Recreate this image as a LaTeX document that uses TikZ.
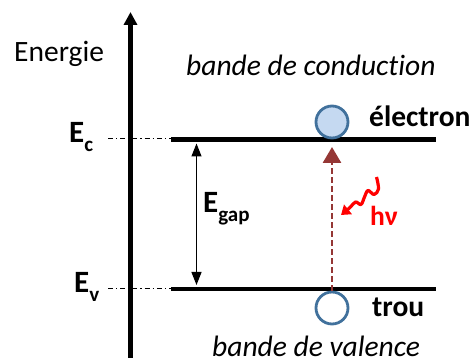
\documentclass[tikz,border=0pt]{standalone}
\usepackage{fontspec}
\setmainfont[Ligatures=NoCommon]{Carlito}
\usetikzlibrary{arrows.meta}
\definecolor{arrowbrown}{HTML}{953735}
\definecolor{circedge}{HTML}{41719C}
\definecolor{circfill}{HTML}{C5D9F1}
\tikzset{
  txt/.style={inner sep=0pt, anchor=base west, font=\fontsize{29.5}{34}\selectfont},
  itxt/.style={txt, font=\fontsize{29.5}{34}\selectfont\itshape},
  btxt/.style={txt, font=\fontsize{29.5}{34}\selectfont\bfseries},
  level/.style={line width=4.8pt},
  guide/.style={line width=0.9pt, dash pattern=on 5pt off 3pt on 1.2pt off 3pt},
  particle/.style={circle, draw=circedge, line width=2.8pt, minimum size=32pt, inner sep=0pt},
}
\newcommand{\lvl}[2]{\textbf{E}\raisebox{-9pt}{\fontsize{21}{24}\selectfont\bfseries #2}}
\begin{document}
\begin{tikzpicture}[x=1pt,y=-1pt]
\useasboundingbox (0,0) rectangle (475,363);
% axis
\coordinate (axb) at (130.5,358);
\coordinate (axt) at (130.5,12);
\draw[line width=4.8pt, -{Triangle[length=13pt,width=13pt]}] (axb) -- (axt);
% levels
\coordinate (ecL) at (171,139.5);
\coordinate (ecR) at (436,139.5);
\coordinate (evL) at (171,289);
\coordinate (evR) at (436,289);
\coordinate (ecG) at (108,138);
\coordinate (evG) at (108,288);
\draw[level] (ecL) -- (ecR);
\draw[level] (evL) -- (evR);
\draw[guide] (ecG) -- (ecL|-ecG);
\draw[guide] (evG) -- (evL|-evG);
% labels
\node[txt] (en) at (14,62) {Energie};
\node[itxt] (bc) at (186,76) {bande de conduction};
\node[itxt] (bv) at (212,357) {bande de valence};
\node[txt, font=\fontsize{31}{34}\selectfont\bfseries] (ec) at (69,143) {\lvl{E}{c}};
\node[txt, font=\fontsize{31}{34}\selectfont\bfseries] (ev) at (74,293) {\lvl{E}{v}};
% gap arrow
\coordinate (gt) at (196.5,143.5);
\coordinate (gb) at (196.5,285);
\draw[line width=1.3pt, {Triangle[length=13pt,width=10pt]}-{Triangle[length=13pt,width=10pt]}] (gb) -- (gt);
\node[txt, font=\fontsize{31}{34}\selectfont\bfseries] (eg) at (203,213) {\lvl{E}{gap}};
% particles
\node[particle, fill=circfill] (el) at (332,122) {};
\node[particle, fill=white] (ho) at (332,308) {};
\node[btxt] (elt) at (369,127) {électron};
\node[btxt] (hot) at (372,317) {trou};
% transition arrow
\draw[arrowbrown, line width=2.8pt, dash pattern=on 6pt off 3pt,
  -{Triangle[length=16pt,width=18pt]}] (ho.north) -- (332,147);
% photon
\coordinate (p0) at (376.5,177);
\coordinate (p9) at (341,215);
\draw[red, line width=3.2pt, line join=round, -{Triangle[length=9pt,width=12pt]}]
  plot[smooth, tension=0.6] coordinates {(p0) (378.5,189) (374,194.5) (368,190.5) (364.5,197) (361,204.5) (355.5,202) (350,207.5) (p9)};
\node[txt, font=\fontsize{27.5}{30}\selectfont\bfseries, text=red] (hv) at (370,226) {hν};
\end{tikzpicture}
\end{document}
